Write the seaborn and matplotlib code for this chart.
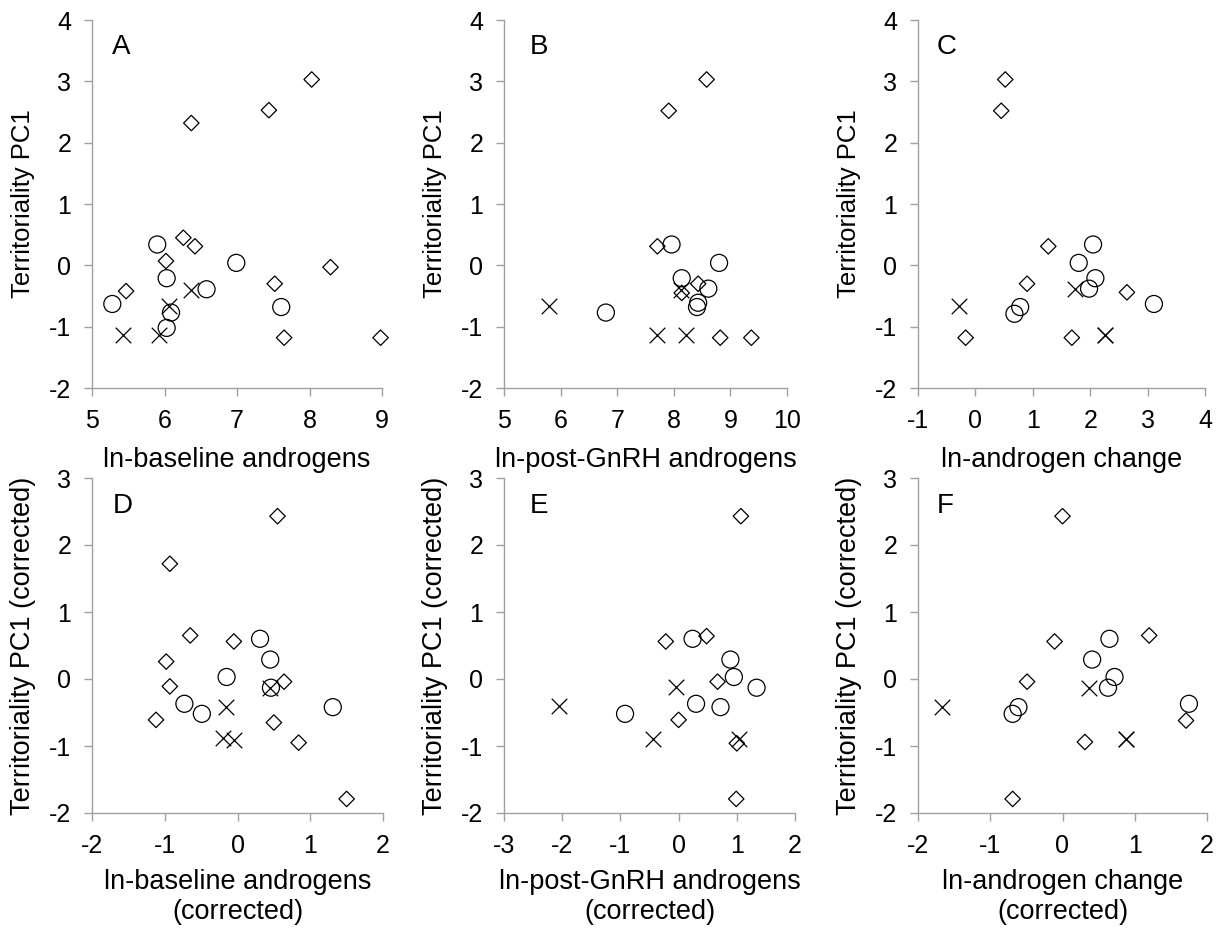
import matplotlib
matplotlib.use("Agg")
import matplotlib.pyplot as plt
import seaborn as sns
import pandas as pd

# ---------------- data ----------------
# group codes: "d" = diamond, "o" = circle, "x" = cross
A_x = [6.37, 7.44, 8.03, 6.26, 6.42, 6.02, 5.47, 7.52, 8.29, 7.65, 8.98,
       5.90, 6.99, 6.03, 6.58, 5.28, 7.61, 6.09, 6.03,
       6.36, 6.06, 5.43, 5.93]
A_y = [2.32, 2.53, 3.03, 0.45, 0.31, 0.07, -0.42, -0.30, -0.03, -1.18, -1.18,
       0.34, 0.04, -0.21, -0.39, -0.63, -0.68, -0.77, -1.02,
       -0.40, -0.67, -1.14, -1.14]
A_g = ["d"] * 11 + ["o"] * 8 + ["x"] * 4

B_x = [8.58, 7.91, 7.71, 8.43, 8.14, 8.82, 9.37,
       7.96, 8.80, 8.14, 8.61, 8.43, 8.41, 6.80,
       5.80, 7.71, 8.21, 8.12]
B_y = [3.03, 2.52, 0.31, -0.30, -0.45, -1.18, -1.18,
       0.34, 0.04, -0.21, -0.38, -0.61, -0.68, -0.77,
       -0.67, -1.14, -1.14, -0.40]
B_g = ["d"] * 7 + ["o"] * 7 + ["x"] * 4

C_x = [0.52, 0.45, 1.27, 0.90, 2.64, -0.17, 1.68,
       2.05, 1.80, 2.09, 1.98, 3.11, 0.78, 0.68,
       -0.29, 1.74, 2.26, 2.26]
C_y = [3.03, 2.52, 0.31, -0.30, -0.44, -1.18, -1.18,
       0.34, 0.04, -0.21, -0.38, -0.63, -0.68, -0.79,
       -0.67, -0.38, -1.14, -1.14]
C_g = ["d"] * 7 + ["o"] * 7 + ["x"] * 4

D_x = [0.55, -0.93, -0.65, -0.05, -0.98, -0.93, 0.64, -1.12, 0.50, 0.84, 1.50,
       0.31, 0.45, -0.15, 0.46, -0.73, -0.49, 1.31,
       0.45, -0.16, -0.20, -0.05]
D_y = [2.43, 1.72, 0.65, 0.56, 0.26, -0.11, -0.04, -0.61, -0.65, -0.95, -1.79,
       0.60, 0.29, 0.03, -0.13, -0.37, -0.52, -0.42,
       -0.13, -0.42, -0.88, -0.91]
D_g = ["d"] * 11 + ["o"] * 7 + ["x"] * 4

E_x = [1.07, -0.22, 0.48, 0.67, 0.00, 1.00, 0.99,
       0.24, 0.89, 0.95, 1.34, 0.30, 0.72, -0.92,
       -0.04, -2.06, -0.44, 1.03]
E_y = [2.43, 0.56, 0.64, -0.04, -0.61, -0.96, -1.79,
       0.60, 0.29, 0.03, -0.13, -0.37, -0.42, -0.52,
       -0.12, -0.41, -0.89, -0.89]
E_g = ["d"] * 7 + ["o"] * 7 + ["x"] * 4

F_x = [0.00, -0.11, 1.20, -0.49, 0.31, 1.71, -0.69,
       0.65, 0.41, 0.72, 0.63, 1.75, -0.61, -0.69,
       -1.67, 0.37, 0.88, 0.88]
F_y = [2.43, 0.56, 0.65, -0.04, -0.94, -0.62, -1.79,
       0.60, 0.29, 0.03, -0.13, -0.37, -0.42, -0.52,
       -0.42, -0.13, -0.89, -0.89]
F_g = ["d"] * 7 + ["o"] * 7 + ["x"] * 4

letters = ["A", "B", "C", "D", "E", "F"]
x_labels = ["ln-baseline androgens", "ln-post-GnRH androgens", "ln-androgen change",
            "ln-baseline androgens\n(corrected)", "ln-post-GnRH androgens\n(corrected)",
            "ln-androgen change\n(corrected)"]
y_labels = ["Territoriality PC1"] * 3 + ["Territoriality PC1 (corrected)"] * 3
x_limits = [(5, 9), (5, 10), (-1, 4), (-2, 2), (-3, 2), (-2, 2)]
y_limits = [(-2, 4)] * 3 + [(-2, 3)] * 3

panels = [(A_x, A_y, A_g), (B_x, B_y, B_g), (C_x, C_y, C_g),
          (D_x, D_y, D_g), (E_x, E_y, E_g), (F_x, F_y, F_g)]

# ---------------- layout (pixels) ----------------
W, H = 1223, 932
rects_px = [(92, 382, 20, 388), (504, 787, 20, 388), (918, 1205, 20, 388),
            (92, 383, 478, 813), (504, 795, 478, 813), (918, 1207, 478, 813)]
letter_dx = [20, 26, 19, 21, 26, 19]

sns.set_style("white")
plt.rcParams["font.family"] = ["Liberation Sans", "DejaVu Sans"]
plt.rcParams["axes.unicode_minus"] = False
plt.rcParams["text.color"] = "black"
plt.rcParams["axes.labelcolor"] = "black"
plt.rcParams["xtick.color"] = "black"
plt.rcParams["ytick.color"] = "black"

fig = plt.figure(figsize=(W / 100, H / 100), dpi=100)
AXIS_GRAY = "#a0a0a0"

for i, ((xs, ys, gs), (l, r, t, b)) in enumerate(zip(panels, rects_px)):
    ax = fig.add_axes([l / W, 1 - b / H, (r - l) / W, (b - t) / H])
    df = pd.DataFrame({"x": xs, "y": ys, "g": gs})
    sns.scatterplot(data=df[df.g == "d"], x="x", y="y", marker="D", s=62,
                    facecolor="none", edgecolor="black", linewidth=0.9, ax=ax,
                    zorder=3, clip_on=False)
    sns.scatterplot(data=df[df.g == "o"], x="x", y="y", marker="o", s=150,
                    facecolor="none", edgecolor="black", linewidth=0.9, ax=ax,
                    zorder=3, clip_on=False)
    sns.scatterplot(data=df[df.g == "x"], x="x", y="y", marker="x", s=125,
                    color="black", linewidth=0.9, ax=ax, zorder=3, clip_on=False)

    ax.set_xlim(*x_limits[i])
    ax.set_ylim(*y_limits[i])
    ax.set_xticks(range(int(x_limits[i][0]), int(x_limits[i][1]) + 1))
    ax.set_yticks(range(int(y_limits[i][0]), int(y_limits[i][1]) + 1))
    for side in ["top", "right"]:
        ax.spines[side].set_visible(False)
    for side in ["left", "bottom"]:
        ax.spines[side].set_color(AXIS_GRAY)
        ax.spines[side].set_linewidth(1.0)
    ax.tick_params(axis="both", direction="out", length=6, width=1.0,
                   color=AXIS_GRAY, labelsize=18, labelcolor="black", pad=9)
    ax.tick_params(axis="x", bottom=True)
    ax.tick_params(axis="y", left=True)

    ax.set_xlabel(x_labels[i], fontsize=19.5, linespacing=1.2, color="black")
    ax.set_ylabel(y_labels[i], fontsize=18.5 if i < 3 else 19.5, color="black")
    h_px = b - t
    w_px = r - l
    ax.xaxis.set_label_coords(0.5, -(447 - 388) / h_px if i < 3 else -(869 - 813) / h_px)
    ax.yaxis.set_label_coords(-69 / w_px, 0.5)
    ax.yaxis.label.set_va("center")
    ax.text(letter_dx[i] / w_px, 0.927 if i < 3 else 0.916, letters[i],
            transform=ax.transAxes, fontsize=20, ha="left", va="center",
            color="black")

fig.savefig("out.png", dpi=100)
